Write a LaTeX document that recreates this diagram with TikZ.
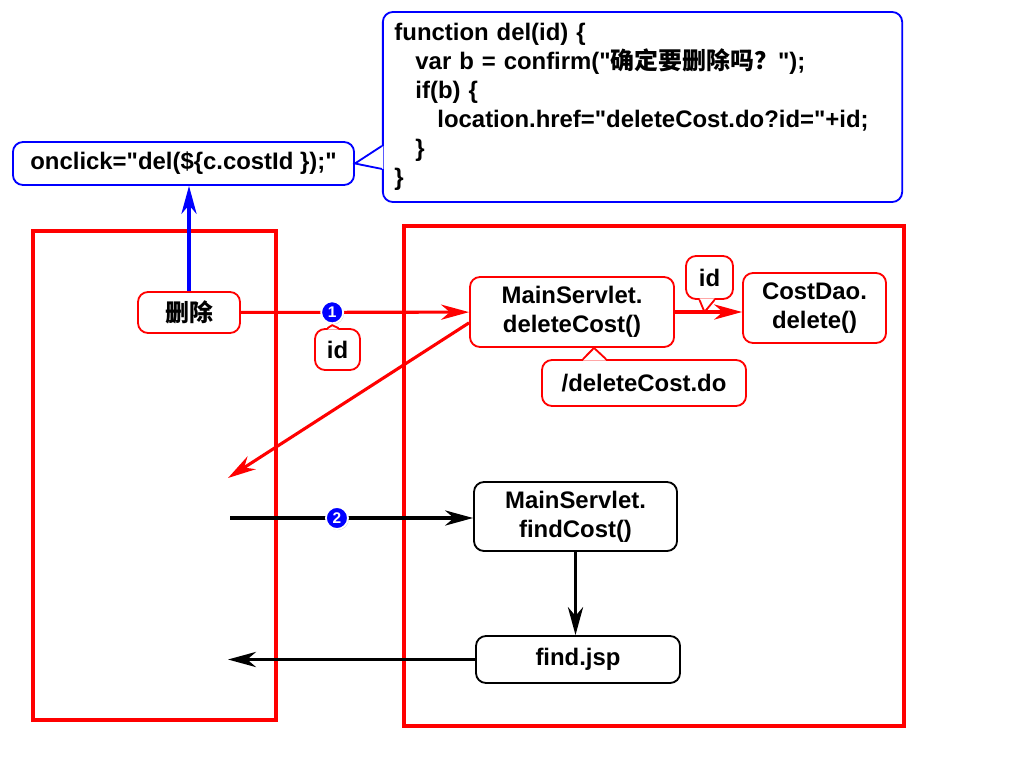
\documentclass[tikz,border=0pt]{standalone}
\usepackage{fontspec}
\setmainfont{Liberation Sans}
\newfontfamily\cjk{Noto Sans CJK SC}
\usetikzlibrary{arrows.meta,calc,shadows,positioning}
\newcommand\quo{\textquotedbl}

\tikzset{
  box/.style={draw, rounded corners=0.25cm, line width=1.3pt, fill=white, align=center,
    font=\fontsize{17pt}{20.6pt}\selectfont\bfseries, inner sep=0pt},
  redbox/.style={box, draw=red},
  blackbox/.style={box, draw=black},
  bluebox/.style={box, draw=blue},
  frame/.style={draw=red, line width=2.2pt},
  tail/.style={line width=1.3pt},
  numdot/.style={circle, fill=blue, draw=white, line width=1.3pt, text=white,
    font=\fontsize{11pt}{11pt}\selectfont\bfseries, inner sep=0pt, minimum size=0.55cm,
    drop shadow={opacity=0.35, shadow xshift=0.6pt, shadow yshift=-0.8pt}},
  flow/.style={line width=2.2pt, -{Stealth[length=0.7cm,width=0.38cm,inset=0.22cm]}},
}

\begin{document}
\begin{tikzpicture}[x=0.025cm, y=-0.025cm]
  \useasboundingbox (0,0) rectangle (1024,782);
  % page and server
  \draw[frame] (33,231) rectangle (276,720);
  \draw[frame] (404,226) rectangle (904,726);

  \node[bluebox, minimum width=8.525cm, minimum height=1.075cm] (oc) at (183.5,163.5) {onclick=\quo del(\$\{c.costId \});\quo};
  \node[bluebox, text width=12.4cm, align=left, minimum height=4.75cm, inner xsep=0.29cm] (code) at (642.5,107)
    {function del(id) \{\\
     \hspace*{0.525cm}var b = confirm(\quo{\cjk 确定要删除吗？}\quo);\\
     \hspace*{0.525cm}if(b) \{\\
     \hspace*{1.075cm}location.href=\quo deleteCost.do?id=\quo+id;\\
     \hspace*{0.525cm}\}\\
     \}};

  \node[redbox, minimum width=2.55cm, minimum height=1.025cm] (del) at (189,312.5) {{\cjk 删除}};
  \node[redbox, minimum width=5.1cm, minimum height=1.75cm] (ds) at (572,312) {MainServlet.\\deleteCost()};
  \node[redbox, minimum width=3.575cm, minimum height=1.75cm] (cd) at (814.5,308) {CostDao.\\delete()};
  \node[redbox, minimum width=5.1cm, minimum height=1.15cm] (url) at (644,383) {/deleteCost.do};
  \node[redbox, minimum width=1.125cm, minimum height=1.025cm] (id1) at (337.5,349.5) {id};
  \node[redbox, minimum width=1.175cm, minimum height=1.075cm] (id2) at (709.5,277.5) {id};
  \node[blackbox, minimum width=5.075cm, minimum height=1.725cm] (fc) at (575.5,516.5) {MainServlet.\\findCost()};
  \node[blackbox, minimum width=5.1cm, minimum height=1.175cm] (fj) at (578,659.5) {find.jsp};

  \coordinate (back) at (228,478);
  \coordinate (go) at (230,518);
  \coordinate (ret) at (228,661);

  % requests
  \draw[flow, blue] (del.north) -- (del.north |- oc.south);
  \draw[flow, red] (del) -- node[numdot, pos=0.4] (n1) {1} (ds);
  \draw[flow, red] (ds.186) -- (back);
  \draw[flow, red] (ds.east) -- (ds.east -| cd.west);
  \draw[flow] (go) -- node[numdot, pos=0.44] (n2) {2} (go -| fc.west);
  \draw[flow] (fc.south) -- (fc.south |- fj.north);
  \draw[flow] (fj.west) -- (fj.west -| ret);

  % callout tails
  \fill[white] ($(code.south west)+(1.5,-57)$) -- (oc.east) -- ($(code.south west)+(1.5,-34)$) -- cycle;
  \draw[tail, blue] ($(code.south west)+(0,-57)$) -- (oc.east) -- ($(code.south west)+(0,-34)$);
  \fill[white] ($(id1.north)+(-10,1.5)$) -- ($(n1.south)+(0,1)$) -- ($(id1.north)+(1,1.5)$) -- cycle;
  \draw[tail, red] ($(id1.north)+(-10,0)$) -- ($(n1.south)+(0,1)$) -- ($(id1.north)+(1,0)$);
  \fill[white] ($(id2.south)+(-10,-1.5)$) -- ($(id2.south |- ds.east)+(-5,0)$) -- ($(id2.south)+(5,-1.5)$) -- cycle;
  \draw[tail, red] ($(id2.south)+(-10,0)$) -- ($(id2.south |- ds.east)+(-5,0)$) -- ($(id2.south)+(5,0)$);
  \fill[white] ($(url.north)+(-61,1.5)$) -- ($(ds.south)+(22,0)$) -- ($(url.north)+(-38,1.5)$) -- cycle;
  \draw[tail, red] ($(url.north)+(-61,0)$) -- ($(ds.south)+(22,0)$) -- ($(url.north)+(-38,0)$);
\end{tikzpicture}
\end{document}
